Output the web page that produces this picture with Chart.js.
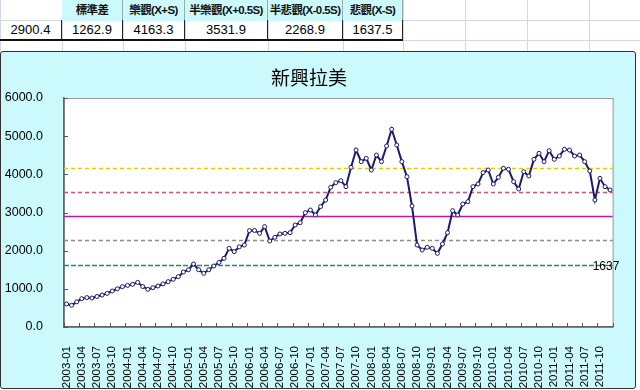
<!DOCTYPE html>
<html>
<head>
<meta charset="utf-8">
<script src="https://cdn.jsdelivr.net/npm/chart.js@4/dist/chart.umd.min.js"></script>
<style>
  body { margin: 0; width: 640px; height: 390px; overflow: hidden; background: #fff; position: relative;
         font-family: "Liberation Sans", Arial, "Noto Sans CJK TC", sans-serif; }
  .gl { position: absolute; background: #d0d7e5; }
  .cell { position: absolute; box-sizing: border-box; text-align: center; white-space: nowrap; }
  .head { top: 0; height: 21px; line-height: 21px; background: #ccfafc; border-right: 1px solid #9aa; font-size: 11.5px;
          font-weight: bold; letter-spacing: -0.6px; color: #111;
          font-family: "Liberation Sans", "Noto Sans CJK TC", sans-serif; }
  .val { top: 20px; height: 21px; line-height: 20px; border-right: 1px solid #222; border-bottom: 2px solid #111; font-size: 13px; }
  #wrap { position: absolute; left: 0; top: 51px; width: 636px; height: 338px; box-sizing: border-box;
          border: 1px solid #333; border-radius: 3px; background: #ccfafc; }
  #chart { position: absolute; left: 0; top: 0; }
</style>
</head>
<body>
<div id="sheet"></div>
<div id="wrap"><canvas id="chart" width="634" height="336"></canvas></div>
<script>
// spreadsheet summary row
const tableHeads = ["", "標準差", "樂觀(X+S)", "半樂觀(X+0.5S)", "半悲觀(X-0.5S)", "悲觀(X-S)"];
const tableValues = ["2900.4", "1262.9", "4163.3", "3531.9", "2268.9", "1637.5"];
const colEdges = [0, 62, 123, 185, 268, 343, 403];
const extraCols = [465, 527, 589];

// monthly index 2003-01 .. 2011-12
const months = [];
for (let y = 2003; y <= 2011; y++) {
    for (let m = 1; m <= 12; m++) months.push(y + "-" + String(m).padStart(2, "0"));
}
const indexValues = [
    603, 568, 660, 742, 770, 760, 800, 838, 880, 943, 1000, 1057,
    1090, 1118, 1170, 1060, 987, 1030, 1074, 1130, 1188, 1250, 1319, 1440,
    1500, 1651, 1500, 1406, 1500, 1598, 1690, 1799, 2061, 1974, 2100, 2148,
    2524, 2530, 2454, 2629, 2253, 2350, 2437, 2454, 2472, 2672, 2733, 2995,
    3065, 2934, 3153, 3327, 3660, 3782, 3834, 3677, 4184, 4637, 4332, 4419,
    4113, 4506, 4332, 4742, 5180, 4768, 4332, 3939, 3170, 2148, 2017, 2088,
    2061, 1930, 2175, 2472, 3048, 2934, 3223, 3284, 3677, 3747, 4044, 4113,
    3747, 3921, 4158, 4131, 3808, 3616, 4070, 3956, 4393, 4550, 4332, 4620,
    4393, 4480, 4655, 4637, 4480, 4506, 4332, 4087, 3327, 3895, 3677, 3590
];

// reference lines: X+S, X+0.5S, X, X-0.5S, X-S
const statValues = [4163.3, 3531.9, 2900.4, 2268.9, 1637.5];
const statColors = ["#d8d400", "#cc5577", "#c8139c", "#8c8c8c", "#12907a"];
const statDashes = [[4, 3], [4, 3], [], [4, 3], [5, 2]];

// ---- build the sheet cells ----
const sheet = document.getElementById("sheet");
function addLine(style) {
    const d = document.createElement("div");
    d.className = "gl";
    Object.assign(d.style, style);
    sheet.appendChild(d);
}
[20, 40].forEach(y => addLine({ left: "0px", top: y + "px", width: "640px", height: "1px" }));
colEdges.concat(extraCols).forEach(x => addLine({ left: x + "px", top: "0px", width: "1px", height: "52px" }));

for (let i = 0; i < tableHeads.length; i++) {
    const left = colEdges[i], w = colEdges[i + 1] - colEdges[i];
    if (tableHeads[i]) {
        const h = document.createElement("div");
        h.className = "cell head";
        h.style.left = left + "px";
        h.style.width = w + "px";
        h.textContent = tableHeads[i];
        sheet.appendChild(h);
    }
    const v = document.createElement("div");
    v.className = "cell val";
    v.style.left = left + "px";
    v.style.width = w + "px";
    v.textContent = tableValues[i];
    sheet.appendChild(v);
}

// ---- chart ----
const plotFrame = {
    id: "plotFrame",
    beforeDraw(chart) {
        const { ctx, chartArea: a } = chart;
        ctx.save();
        ctx.fillStyle = "#fff";
        ctx.fillRect(a.left, a.top, a.right - a.left, a.bottom - a.top);
        ctx.strokeStyle = "#9a9a9a";
        ctx.lineWidth = 1;
        ctx.strokeRect(a.left + 0.5, a.top + 0.5, a.right - a.left, a.bottom - a.top);
        ctx.restore();
    },
    beforeDatasetsDraw(chart) {
        const { ctx, chartArea: a, scales: { y } } = chart;
        statValues.forEach((v, i) => {
            const py = Math.round(y.getPixelForValue(v)) + 0.5;
            ctx.save();
            ctx.strokeStyle = statColors[i];
            ctx.lineWidth = i === 2 ? 1.5 : 1.3;
            ctx.setLineDash(statDashes[i]);
            ctx.beginPath();
            ctx.moveTo(a.left, py);
            ctx.lineTo(a.right, py);
            ctx.stroke();
            ctx.restore();
        });
        // value label at the right end of the lowest line
        const low = statValues[statValues.length - 1];
        ctx.save();
        ctx.fillStyle = "#000";
        ctx.font = "12px 'Liberation Sans', Arial, sans-serif";
        ctx.textBaseline = "middle";
        ctx.textAlign = "left";
        ctx.fillText(String(Math.floor(low)), a.right - 20, y.getPixelForValue(low) + 2);
        ctx.restore();
    },
    afterDatasetsDraw(chart) {
        // small inward tick marks like the Excel axes
        const { ctx, chartArea: a, scales: { x, y } } = chart;
        ctx.save();
        ctx.strokeStyle = "#555";
        ctx.lineWidth = 1;
        ctx.beginPath();
        y.ticks.forEach(t => {
            const py = Math.round(y.getPixelForValue(t.value)) + 0.5;
            ctx.moveTo(a.left, py);
            ctx.lineTo(a.left + 4, py);
        });
        const half = (x.getPixelForValue(1) - x.getPixelForValue(0)) / 2;
        for (let k = 0; k <= months.length; k += 3) {
            const px = Math.round(x.getPixelForValue(k) - half) + 0.5;
            ctx.moveTo(px, a.bottom);
            ctx.lineTo(px, a.bottom - 4);
        }
        ctx.stroke();
        ctx.restore();
    }
};

new Chart(document.getElementById("chart").getContext("2d"), {
    type: "line",
    data: {
        labels: months,
        datasets: [{
            label: "新興拉美",
            data: indexValues,
            borderColor: "#1b1b6e",
            borderWidth: 2,
            tension: 0,
            pointRadius: 2,
            pointBorderWidth: 1,
            pointBackgroundColor: "#fff",
            pointBorderColor: "#1b1b6e"
        }]
    },
    options: {
        responsive: false,
        animation: false,
        devicePixelRatio: 1,
        layout: { padding: { left: 0, right: 18, top: 0, bottom: 0 } },
        plugins: {
            legend: { display: false },
            tooltip: { enabled: false },
            title: {
                display: true,
                text: "新興拉美",
                color: "#000",
                font: { family: "'Noto Sans CJK TC', sans-serif", size: 19, weight: "normal" },
                padding: { top: 14.6, bottom: 8.6 }
            }
        },
        scales: {
            x: {
                offset: true,
                grid: { display: false },
                border: { display: true, color: "#666", width: 1.5 },
                ticks: {
                    autoSkip: false,
                    minRotation: 90,
                    maxRotation: 90,
                    padding: 11,
                    color: "#000",
                    font: { family: "'Liberation Sans', Arial, sans-serif", size: 11.5 },
                    callback: (v, i) => (i % 3 === 0 ? months[i] : "")
                },
                afterFit: s => { s.height = 61; }
            },
            y: {
                min: 0,
                max: 6000,
                grid: { display: false },
                border: { display: true, color: "#666", width: 1.5 },
                ticks: {
                    stepSize: 1000,
                    padding: 13,
                    color: "#000",
                    font: { family: "'Liberation Sans', Arial, sans-serif", size: 12.5 },
                    callback: v => v.toFixed(1)
                },
                afterFit: s => { s.width = 63; }
            }
        }
    },
    plugins: [plotFrame]
});
</script>
</body>
</html>
